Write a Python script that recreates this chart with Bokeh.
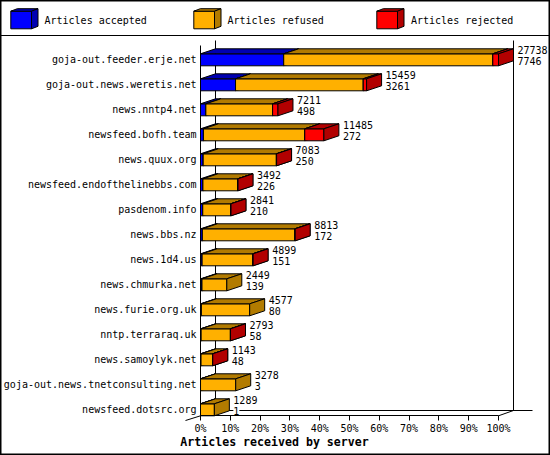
from bokeh.plotting import figure
from bokeh.models import ColumnDataSource, FixedTicker, LinearAxis, PrintfTickFormatter, Range1d
from bokeh.core.properties import value
from bokeh.embed import file_html
from bokeh.resources import INLINE

servers = ["goja-out.feeder.erje.net", "goja-out.news.weretis.net", "news.nntp4.net",
           "newsfeed.bofh.team", "news.quux.org", "newsfeed.endofthelinebbs.com",
           "pasdenom.info", "news.bbs.nz", "news.1d4.us", "news.chmurka.net",
           "news.furie.org.uk", "nntp.terraraq.uk", "news.samoylyk.net",
           "goja-out.news.tnetconsulting.net", "newsfeed.dotsrc.org"]
totals = [27738, 15459, 7211, 11485, 7083, 3492, 2841, 8813, 4899, 2449, 4577, 2793, 1143, 3278, 1289]
accepted = [7746, 3261, 498, 272, 250, 226, 210, 172, 151, 139, 80, 58, 48, 3, 1]
rejected = [530, 310, 500, 1780, 20, 20, 20, 20, 25, 0, 0, 10, 10, 0, 0]
refused = [t - a - r for t, a, r in zip(totals, accepted, rejected)]
legend_names = ["Articles accepted", "Articles refused", "Articles rejected"]
x_title = "Articles received by server"
pct_ticks = [0, 10, 20, 30, 40, 50, 60, 70, 80, 90, 100]

FRONT = ["#0000ff", "#ffb000", "#ff0000"]
DARK = ["#0000b2", "#b27b00", "#b20000"]

W, H = 550, 455
REF_W, REF_H = 550, 455
PX_PER_PCT = 2.98
ROW_PX = 25.0
X0_PX, Y0_PX = 200.0, 59.3
LABEL_SIZE = "10px"


def xd(px):
    return (px - X0_PX) / PX_PER_PCT


def yd(px):
    return (px - Y0_PX) / ROW_PX


p = figure(width=W, height=H, output_backend="svg", toolbar_location=None,
           x_range=Range1d(xd(0), xd(REF_W)), y_range=Range1d(yd(REF_H), yd(0)),
           x_axis_type=None, y_axis_type=None, min_border=0,
           min_border_left=0, min_border_right=0, min_border_top=0, min_border_bottom=0,
           background_fill_color="white", border_fill_color="white")
p.grid.visible = False
p.outline_line_color = "black"
p.outline_line_width = 2

# Walls of the 3D box
FONT = value("DejaVu Sans Mono")
seg = dict(
    x0=[xd(0), xd(215), xd(513), xd(215), xd(185), xd(498)],
    y0=[yd(35), yd(40), yd(40), yd(410), yd(420), yd(415.3)],
    x1=[xd(REF_W), xd(215), xd(513), xd(532), xd(200), xd(513)],
    y1=[yd(35), yd(410), yd(410), yd(410), yd(415.3), yd(410)],
)
p.segment("x0", "y0", "x1", "y1", source=ColumnDataSource(seg), line_color="black", line_width=1)

# Bars
half_h = 6.0 / ROW_PX
dep_x = 15.0 / PX_PER_PCT
dep_y = 5.0 / ROW_PX
xs, ys, cols = [], [], []


def box(l, r, t, b, dx, dy, front, dark):
    xs.extend([[l, r, r, l], [l, r, r + dx, l + dx], [r, r + dx, r + dx, r]])
    ys.extend([[t, t, b, b], [t, t, t - dy, t - dy], [t, t - dy, b - dy, b]])
    cols.extend([front, dark, dark])


max_total = max(totals)
for i in range(len(servers)):
    start = 0.0
    for k, val in enumerate((accepted[i], refused[i], rejected[i])):
        if val <= 0:
            continue
        end = start + val / max_total * 100
        box(start, end, i - half_h, i + half_h, dep_x, dep_y, FRONT[k], DARK[k])
        start = end

# Legend swatches
for k, left in enumerate((10.3, 193.3, 376.3)):
    box(xd(left), xd(left + 20.7), yd(10.7), yd(28.3), 6.5 / PX_PER_PCT, 2.5 / ROW_PX, FRONT[k], DARK[k])

p.patches("xs", "ys", source=ColumnDataSource(dict(xs=xs, ys=ys, c=cols)),
          fill_color="c", line_color="black", line_width=1)

# Value labels
ends = [t / max_total * 100 + 19 / PX_PER_PCT for t in totals]
rows = list(range(len(servers)))
p.text(ends, [r - 10.0 / ROW_PX for r in rows], text=[str(t) for t in totals],
       text_font=FONT, text_font_size=LABEL_SIZE, text_baseline="middle", text_color="black")
p.text(ends, [r + 1.5 / ROW_PX for r in rows], text=[str(a) for a in accepted],
       text_font=FONT, text_font_size=LABEL_SIZE, text_baseline="middle", text_color="black",
       background_fill_color="white")

# Legend texts and title
p.text([xd(44), xd(227), xd(410.5)], [yd(20)] * 3, text=legend_names,
       text_font=FONT, text_font_size=LABEL_SIZE, text_baseline="middle", text_color="black")
p.text([xd(274)], [yd(441.5)], text=[x_title], text_font=value("DejaVu Sans Mono"),
       text_font_style="bold", text_font_size="11.6px", text_align="center",
       text_baseline="middle", text_color="black")

# Axes
xax = LinearAxis(fixed_location=yd(415.3), ticker=FixedTicker(ticks=pct_ticks),
                 formatter=PrintfTickFormatter(format="%d%%"), bounds=(0, 100))
xax.major_tick_in = 0
xax.major_tick_out = 5
xax.minor_tick_line_color = None
xax.major_label_text_font = "DejaVu Sans Mono"
xax.major_label_text_font_size = LABEL_SIZE
xax.major_label_text_color = "black"
xax.major_label_standoff = 2
xax.axis_line_color = "black"
xax.major_tick_line_color = "black"
p.add_layout(xax, "below")

yax = LinearAxis(fixed_location=0, ticker=FixedTicker(ticks=rows), bounds=(yd(45), yd(415.3)))
yax.major_label_overrides = {i: s for i, s in enumerate(servers)}
yax.major_tick_line_color = None
yax.minor_tick_line_color = None
yax.major_tick_in = 0
yax.major_tick_out = 0
yax.minor_tick_in = 0
yax.minor_tick_out = 0
yax.major_label_text_font = "DejaVu Sans Mono"
yax.major_label_text_font_size = LABEL_SIZE
yax.major_label_text_color = "black"
yax.major_label_standoff = 4
yax.axis_line_color = "black"
p.add_layout(yax, "left")

open("out.html", "w").write(file_html(p, INLINE))
